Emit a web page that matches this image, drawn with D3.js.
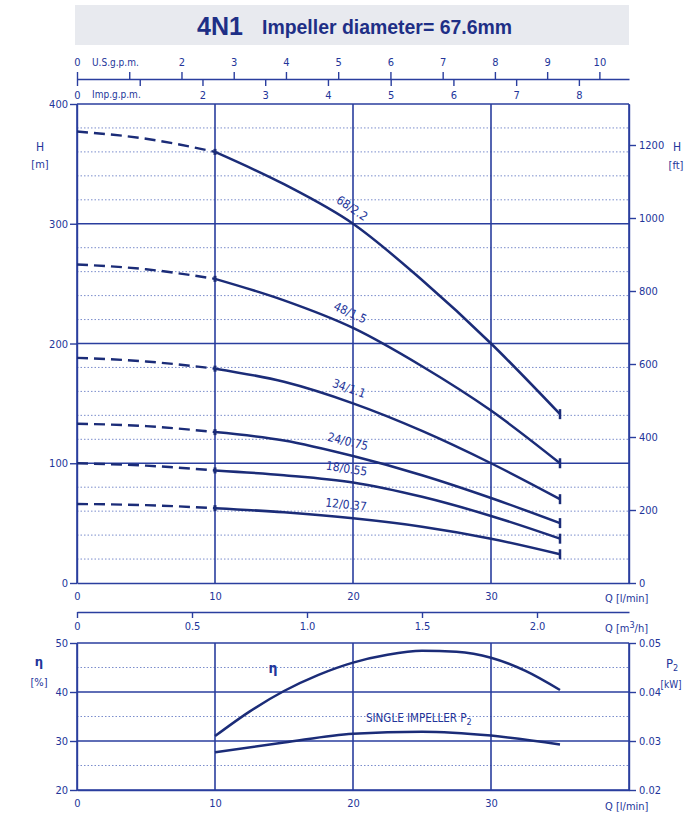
<!DOCTYPE html>
<html><head><meta charset="utf-8">
<script src="https://cdn.jsdelivr.net/npm/d3@7/dist/d3.min.js"></script>
<style>
body{margin:0;background:#fff;}
svg{display:block;}
.axis text{font-family:"DejaVu Sans Condensed","DejaVu Sans",sans-serif;font-stretch:condensed;font-size:11px;fill:#23359a;}
.axis line,.axis path{stroke:#2a3e9e;stroke-width:1.4;}
.lbl{font-family:"DejaVu Sans Condensed","DejaVu Sans",sans-serif;font-stretch:condensed;fill:#23359a;}
</style></head><body>
<svg id="c" width="700" height="832"></svg>
<script>
// ---------- data ----------
const qPoints = [0, 5, 10, 15, 20, 25, 30, 35];            // l/min
const curveNames = ["68/2.2", "48/1.5", "34/1.1", "24/0.75", "18/0.55", "12/0.37"];
const head68 = [377, 371, 360, 333, 300, 253, 200, 141];
const head48 = [266, 262, 254, 236, 213, 181, 144, 100];
const head34 = [188, 185, 179, 168, 150, 127, 100, 70];
const head24 = [133, 131, 126, 119, 106, 90, 71, 50];
const head18 = [100, 98, 94, 90, 84, 72, 56, 37];
const head12 = [66, 65, 62.5, 59, 54, 47, 37, 24];
const effQ = [10, 12.5, 15, 17.5, 20, 22.5, 25, 27.5, 30, 32.5, 35];
const effVals = [31, 36, 40.2, 43.5, 46, 47.6, 48.4, 48.2, 47, 44.3, 40.4];
const p2Q = [10, 15, 20, 25, 30, 35];
const p2Vals = [0.0277, 0.0297, 0.0315, 0.0319, 0.0311, 0.0293];
const hTicks = [0, 100, 200, 300, 400];
const ftTicks = [0, 200, 400, 600, 800, 1000, 1200];
const qTicks = [0, 10, 20, 30];
const m3Ticks = [0, 0.5, 1.0, 1.5, 2.0];
const usTicks = [0, 1, 2, 3, 4, 5, 6, 7, 8, 9, 10];
const impTicks = [0, 1, 2, 3, 4, 5, 6, 7, 8];
const etaTicks = [20, 30, 40, 50];
const p2Ticks = [0.02, 0.03, 0.04, 0.05];
const dashEnd = 10;   // curves dashed below this flow

const heads = [head68, head48, head34, head24, head18, head12];

// ---------- scales ----------
const svg = d3.select("#c");
const X0 = 77, X1 = 629;
const x = d3.scaleLinear([0, 40], [X0, X1]);
const yH = d3.scaleLinear([0, 400], [583, 104]);
const yFt = d3.scaleLinear([0, 400 / 0.3048], [583, 104]);
const xUS = d3.scaleLinear([0, 40 / 3.78541], [X0, X1]);
const xImp = d3.scaleLinear([0, 40 / 4.54609], [X0, X1]);
const xM3 = d3.scaleLinear([0, 40 * 60 / 1000], [X0, X1]);
const yEta = d3.scaleLinear([20, 50], [790, 643]);
const yP = d3.scaleLinear([0.02, 0.05], [790, 643]);

const navy = "#1b2c78", grid = "#2a3e9e", dot = "#7b8dcc";

// ---------- title ----------
svg.append("rect").attr("x", 75).attr("y", 5).attr("width", 554).attr("height", 40).attr("fill", "#e8eaef");
svg.append("text").attr("x", 197).attr("y", 35).attr("fill", "#1e2f86")
  .style("font-family", "'Liberation Sans',Arial,sans-serif")
  .style("font-size", "25px").style("font-weight", "bold").text("4N1");
svg.append("text").attr("x", 262).attr("y", 34).attr("fill", "#1e2f86")
  .attr("textLength", 250).attr("lengthAdjust", "spacingAndGlyphs")
  .style("font-family", "'Liberation Sans',Arial,sans-serif")
  .style("font-size", "21px").style("font-weight", "bold").text("Impeller diameter= 67.6mm");

// ---------- top flow axes ----------
svg.append("g").attr("class", "axis").attr("transform", "translate(0,79)")
  .call(d3.axisTop(xUS).tickValues(usTicks).tickSize(7).tickSizeOuter(0).tickPadding(6).tickFormat(d => d === 1 ? "" : d));
const gImp = svg.append("g").attr("class", "axis").attr("transform", "translate(0,79)")
  .call(d3.axisBottom(xImp).tickValues(impTicks).tickSize(7).tickSizeOuter(0).tickPadding(5).tickFormat(d => d === 1 ? "" : d));
gImp.select(".domain").remove();
svg.append("text").attr("class", "lbl").attr("x", 92).attr("y", 66).style("font-size", "10px").text("U.S.g.p.m.");
svg.append("text").attr("class", "lbl").attr("x", 92).attr("y", 98).style("font-size", "10px").text("Imp.g.p.m.");

// ---------- main grid ----------
const gm = svg.append("g");
d3.range(20, 400, 20).filter(v => v % 100 !== 0).forEach(v => {
  gm.append("line").attr("x1", X0).attr("x2", X1).attr("y1", yH(v)).attr("y2", yH(v))
    .attr("stroke", dot).attr("stroke-width", 1).attr("stroke-dasharray", "1.5,2");
});
[100, 200, 300, 400].forEach(v => {
  gm.append("line").attr("x1", X0).attr("x2", X1).attr("y1", yH(v)).attr("y2", yH(v))
    .attr("stroke", grid).attr("stroke-width", 1.5);
});
[0, 10, 20, 30, 40].forEach(v => {
  gm.append("line").attr("x1", x(v)).attr("x2", x(v)).attr("y1", yH(0)).attr("y2", yH(400))
    .attr("stroke", grid).attr("stroke-width", 1.6);
});

// ---------- main axes ----------
svg.append("g").attr("class", "axis").attr("transform", `translate(${X0},0)`)
  .call(d3.axisLeft(yH).tickValues(hTicks).tickSize(7).tickSizeOuter(0).tickPadding(2));
svg.append("g").attr("class", "axis").attr("transform", `translate(${X1},0)`)
  .call(d3.axisRight(yFt).tickValues(ftTicks).tickSize(7).tickSizeOuter(0).tickPadding(3).tickFormat(d3.format("d")));
svg.append("g").attr("class", "axis").attr("transform", `translate(0,${yH(0)})`)
  .call(d3.axisBottom(x).tickValues(qTicks).tickSize(0).tickSizeOuter(0).tickPadding(9));
svg.append("g").attr("class", "axis").attr("transform", "translate(0,612)")
  .call(d3.axisBottom(xM3).tickValues(m3Ticks).tickSize(6).tickSizeOuter(0).tickPadding(4)
    .tickFormat(d => d === 0 ? "0" : d3.format(".1f")(d)));
svg.append("text").attr("class", "lbl").attr("x", 605).attr("y", 602).style("font-size", "11px").text("Q [l/min]");
const qm = svg.append("text").attr("class", "lbl").attr("x", 605).attr("y", 632).style("font-size", "11px");
qm.append("tspan").text("Q [m");
qm.append("tspan").text("3").attr("dy", -4).style("font-size", "9px");
qm.append("tspan").text("/h]").attr("dy", 4);

svg.append("text").attr("class", "lbl").attr("x", 40).attr("y", 151).attr("text-anchor", "middle").style("font-size", "12px").text("H");
svg.append("text").attr("class", "lbl").attr("x", 40).attr("y", 168).attr("text-anchor", "middle").style("font-size", "11px").text("[m]");
svg.append("text").attr("class", "lbl").attr("x", 677).attr("y", 151).attr("text-anchor", "middle").style("font-size", "12px").text("H");
svg.append("text").attr("class", "lbl").attr("x", 676).attr("y", 169).attr("text-anchor", "middle").style("font-size", "11px").text("[ft]");

// ---------- head curves ----------
function valAt(arr, q) {
  for (let i = 0; i < qPoints.length - 1; i++) {
    if (q >= qPoints[i] && q <= qPoints[i + 1]) {
      const f = (q - qPoints[i]) / (qPoints[i + 1] - qPoints[i]);
      return arr[i] + f * (arr[i + 1] - arr[i]);
    }
  }
  return arr[arr.length - 1];
}
const lineH = d3.line().x(d => x(d[0])).y(d => yH(d[1])).curve(d3.curveMonotoneX);
heads.forEach((arr, k) => {
  const pts = qPoints.map((q, i) => [q, arr[i]]);
  svg.append("path").attr("d", lineH(pts.filter(p => p[0] <= dashEnd)))
    .attr("fill", "none").attr("stroke", navy).attr("stroke-width", 2.4).attr("stroke-dasharray", "11,6");
  svg.append("path").attr("d", lineH(pts.filter(p => p[0] >= dashEnd)))
    .attr("fill", "none").attr("stroke", navy).attr("stroke-width", 2.5);
  const last = pts[pts.length - 1];
  svg.append("line").attr("x1", x(last[0])).attr("x2", x(last[0]))
    .attr("y1", yH(last[1]) - 5).attr("y2", yH(last[1]) + 5).attr("stroke", navy).attr("stroke-width", 2.5);
  svg.append("line").attr("x1", x(dashEnd)).attr("x2", x(dashEnd))
    .attr("y1", yH(arr[2]) - 3).attr("y2", yH(arr[2]) + 3).attr("stroke", navy).attr("stroke-width", 3);
  // label
  const ql = 19.4;
  const ang = Math.atan2(yH(valAt(arr, 23)) - yH(valAt(arr, 16)), x(23) - x(16)) * 180 / Math.PI;
  svg.append("text").attr("class", "lbl")
    .attr("transform", `translate(${x(ql)},${yH(valAt(arr, ql))}) rotate(${ang})`)
    .attr("text-anchor", "middle").attr("y", -9).style("font-size", "12px").text(curveNames[k]);
});

// ---------- efficiency / power chart ----------
const gb = svg.append("g");
[25, 35, 45].forEach(v => {
  gb.append("line").attr("x1", X0).attr("x2", X1).attr("y1", yEta(v)).attr("y2", yEta(v))
    .attr("stroke", dot).attr("stroke-width", 1).attr("stroke-dasharray", "1.5,2");
});
[20, 30, 40, 50].forEach(v => {
  gb.append("line").attr("x1", X0).attr("x2", X1).attr("y1", yEta(v)).attr("y2", yEta(v))
    .attr("stroke", grid).attr("stroke-width", 1.5);
});
[0, 10, 20, 30, 40].forEach(v => {
  gb.append("line").attr("x1", x(v)).attr("x2", x(v)).attr("y1", yEta(20)).attr("y2", yEta(50))
    .attr("stroke", grid).attr("stroke-width", 1.6);
});
svg.append("g").attr("class", "axis").attr("transform", `translate(${X0},0)`)
  .call(d3.axisLeft(yEta).tickValues(etaTicks).tickSize(7).tickSizeOuter(0).tickPadding(2));
svg.append("g").attr("class", "axis").attr("transform", `translate(${X1},0)`)
  .call(d3.axisRight(yP).tickValues(p2Ticks).tickSize(7).tickSizeOuter(0).tickPadding(3).tickFormat(d3.format(".2f")));
svg.append("g").attr("class", "axis").attr("transform", `translate(0,${yEta(20)})`)
  .call(d3.axisBottom(x).tickValues(qTicks).tickSize(0).tickSizeOuter(0).tickPadding(9));
svg.append("text").attr("class", "lbl").attr("x", 605).attr("y", 810).style("font-size", "11px").text("Q [l/min]");

svg.append("text").attr("class", "lbl").attr("x", 39).attr("y", 666).attr("text-anchor", "middle").style("font-size", "13px").style("font-weight", "bold").text("η");
svg.append("text").attr("class", "lbl").attr("x", 39).attr("y", 686).attr("text-anchor", "middle").style("font-size", "11px").text("[%]");
const p2l = svg.append("text").attr("class", "lbl").attr("x", 672).attr("y", 668).attr("text-anchor", "middle").style("font-size", "13px");
p2l.append("tspan").text("P");
p2l.append("tspan").text("2").attr("dy", 3).style("font-size", "9px");
svg.append("text").attr("class", "lbl").attr("x", 671).attr("y", 688).attr("text-anchor", "middle").style("font-size", "10px").text("[kW]");

const lineE = d3.line().x(d => x(d[0])).y(d => yEta(d[1])).curve(d3.curveMonotoneX);
const lineP = d3.line().x(d => x(d[0])).y(d => yP(d[1])).curve(d3.curveMonotoneX);
svg.append("path").attr("d", lineE(effQ.map((q, i) => [q, effVals[i]])))
  .attr("fill", "none").attr("stroke", navy).attr("stroke-width", 2.5);
svg.append("path").attr("d", lineP(p2Q.map((q, i) => [q, p2Vals[i]])))
  .attr("fill", "none").attr("stroke", navy).attr("stroke-width", 2.5);
svg.append("text").attr("class", "lbl").attr("x", 273).attr("y", 673).attr("text-anchor", "middle")
  .style("font-size", "14px").style("font-weight", "bold").text("η");
const si = svg.append("text").attr("class", "lbl").attr("x", 366).attr("y", 722).style("font-size", "11.5px");
si.append("tspan").text("SINGLE IMPELLER P");
si.append("tspan").text("2").attr("dy", 3).style("font-size", "9px");
</script>
</body></html>
